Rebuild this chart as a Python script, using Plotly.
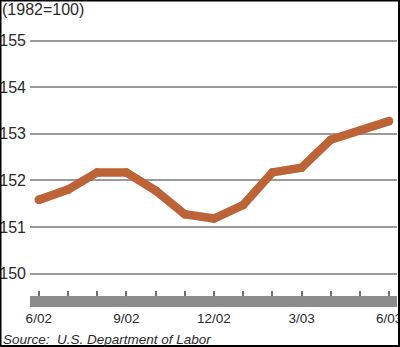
import plotly.graph_objects as go

# ---- data ----
months = ["6/02", "7/02", "8/02", "9/02", "10/02", "11/02", "12/02",
          "1/03", "2/03", "3/03", "4/03", "5/03", "6/03"]
cpi = [151.58, 151.8, 152.17, 152.17, 151.78, 151.27, 151.18,
       151.47, 152.17, 152.27, 152.87, 153.07, 153.27]
x_tick_labels = ["6/02", "9/02", "12/02", "3/03", "6/03"]
y_ticks = [150, 151, 152, 153, 154, 155]
unit_label = "(1982=100)"
source_text = "Source:\u00a0 U.S. Department of Labor"

# ---- geometry ----
W, H = 400, 347
ML, MR, MT, MB = 30, 3, 30, 40
PW = W - ML - MR
PH = H - MT - MB
x_idx = list(range(len(months)))
x_label_idx = [months.index(m) for m in x_tick_labels]

def px_x(X):
    return (X - ML) / PW

def px_y(Y):
    return (H - MB - Y) / PH

LINE_COLOR = "#BC6437"
REG = "Liberation Sans, Arial, sans-serif"
TXT = "#2a2a2a"

fig = go.Figure()
fig.add_trace(go.Scatter(
    x=x_idx, y=cpi, mode="lines+markers",
    line=dict(color=LINE_COLOR, width=8.5),
    marker=dict(color=LINE_COLOR, size=8.5, line=dict(width=0)),
    hoverinfo="skip", showlegend=False,
))
# invisible trace to register the tick axis
fig.add_trace(go.Scatter(
    x=x_idx, y=cpi, xaxis="x2", mode="lines",
    line=dict(width=0), opacity=0, hoverinfo="skip", showlegend=False,
))

xrange = [-0.3, 12.27]
bar_h = 11 / PH
y0 = 150 - (307 - 273.5) / 46.6

fig.update_layout(
    width=W, height=H, autosize=False,
    margin=dict(l=ML, r=MR, t=MT, b=MB, pad=0, autoexpand=False),
    paper_bgcolor="white", plot_bgcolor="white",
    xaxis=dict(
        range=xrange, tickmode="array", tickvals=x_label_idx,
        ticktext=x_tick_labels, ticks="", showgrid=False, zeroline=False,
        showline=False, ticklabeloverflow="allow", ticklabelstandoff=1,
        automargin=False,
        tickfont=dict(family=REG, size=13.5, color=TXT),
    ),
    xaxis2=dict(
        range=xrange, overlaying="x", anchor="free", position=bar_h,
        side="bottom", tickmode="array", tickvals=x_idx, ticks="inside",
        ticklen=5, tickwidth=1.5, tickcolor="#707070", automargin=False,
        showticklabels=False, showgrid=False, zeroline=False, showline=False,
    ),
    yaxis=dict(
        range=[y0, y0 + PH / 46.6],
        tickmode="array", tickvals=y_ticks, ticks="",
        showgrid=True, gridcolor="#9a9a9a", gridwidth=1.6,
        zeroline=False, showline=False, ticklabelstandoff=3,
        automargin=False,
        tickfont=dict(family=REG, size=16, color=TXT),
    ),
    shapes=[
        dict(type="rect", xref="paper", yref="paper", x0=0, x1=1,
             y0=0, y1=bar_h, fillcolor="#8c8c8c", line=dict(width=0),
             layer="below"),
        dict(type="rect", xref="paper", yref="paper",
             x0=px_x(0.5), x1=px_x(399), y0=px_y(346), y1=px_y(0.5),
             line=dict(color="black", width=2), fillcolor="rgba(0,0,0,0)"),
    ],
    annotations=[
        dict(text=unit_label, xref="paper", yref="paper",
             x=px_x(0), y=px_y(9.5), xanchor="left", yanchor="middle",
             showarrow=False, font=dict(family=REG, size=16, color=TXT)),
        dict(text="<i>" + source_text + "</i>", xref="paper", yref="paper",
             x=px_x(1), y=px_y(339), xanchor="left", yanchor="middle",
             showarrow=False, font=dict(family=REG, size=13.5, color=TXT)),
    ],
)

fig.write_html("out.html")
